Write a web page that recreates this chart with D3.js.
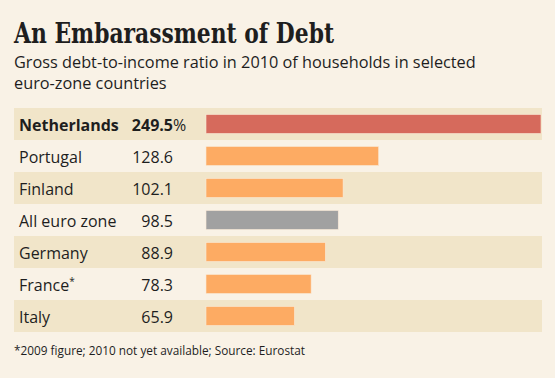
<!DOCTYPE html>
<html>
<head>
<meta charset="utf-8">
<script src="https://cdn.jsdelivr.net/npm/d3@7"></script>
<style>
  html, body { margin: 0; padding: 0; background: #f9f2e6; }
  svg { display: block; }
  text { fill: #1e1e1e; }
</style>
</head>
<body>
<script>
(function(d3) {
    'use strict';

    var countries = ['Netherlands', 'Portugal', 'Finland', 'All euro zone', 'Germany', 'France', 'Italy'];
    var values = [249.5, 128.6, 102.1, 98.5, 88.9, 78.3, 65.9];
    var valueLabels = ['249.5', '128.6', '102.1', '98.5', '88.9', '78.3', '65.9'];
    var barColors = ['#d66a5c', '#fdab63', '#fdab63', '#a1a1a1', '#fdab63', '#fdab63', '#fdab63'];
    var footnoted = ['France'];

    var settings = {
        width: 555,
        height: 378,
        left: 14,
        right: 542,
        top: 108,
        rowHeight: 32,
        barHeight: 19,
        barStart: 206,
        barEnd: 541,
        labelX: 19,
        valueX: 173,
        band: '#f1e5c9',
        sans: '"Open Sans", "Noto Sans", sans-serif'
    };

    var svg = d3.select('body')
        .append('svg')
        .attr('width', settings.width)
        .attr('height', settings.height);

    svg.append('rect')
        .attr('width', settings.width)
        .attr('height', settings.height)
        .attr('fill', '#f9f2e6');

    svg.append('text')
        .attr('x', 14)
        .attr('y', 42.5)
        .style('font-family', '"DejaVu Serif", serif')
        .style('font-weight', 'bold')
        .style('font-size', '28px')
        .attr('textLength', 320)
        .attr('lengthAdjust', 'spacingAndGlyphs')
        .text('An Embarassment of Debt');

    var sub = svg.append('text')
        .style('font-family', settings.sans)
        .style('font-weight', 500)
        .style('font-size', '16.3px');
    sub.append('tspan').attr('x', 14).attr('y', 68)
        .text('Gross debt-to-income ratio in 2010 of households in selected');
    sub.append('tspan').attr('x', 14).attr('y', 89)
        .text('euro-zone countries');

    var y = d3.scaleBand()
        .domain(countries)
        .range([settings.top, settings.top + settings.rowHeight * countries.length])
        .padding(0);

    var x = d3.scaleLinear()
        .domain([0, d3.max(values)])
        .range([settings.barStart, settings.barEnd]);

    var row = svg.selectAll('g.row')
        .data(countries)
        .enter()
        .append('g')
        .attr('class', 'row')
        .attr('transform', function(d) { return 'translate(0,' + y(d) + ')'; });

    row.append('rect')
        .attr('x', settings.left)
        .attr('width', settings.right - settings.left)
        .attr('height', y.bandwidth())
        .attr('fill', function(d, i) { return i % 2 === 0 ? settings.band : 'none'; });

    row.append('rect')
        .attr('x', x(0))
        .attr('y', (y.bandwidth() - settings.barHeight) / 2)
        .attr('width', function(d, i) { return x(values[i]) - x(0); })
        .attr('height', settings.barHeight)
        .attr('fill', function(d, i) { return barColors[i]; })
        .attr('stroke', '#fbe9d8')
        .attr('stroke-width', 0.6);

    var label = row.append('text')
        .attr('x', settings.labelX)
        .attr('y', 23)
        .style('font-family', settings.sans)
        .style('font-size', '16px')
        .style('font-weight', function(d, i) { return i === 0 ? 'bold' : 'normal'; })
        .text(function(d) { return d; });

    label.filter(function(d) { return footnoted.indexOf(d) >= 0; })
        .append('tspan')
        .attr('dy', -6)
        .style('font-size', '10px')
        .text('*');

    row.append('text')
        .attr('x', settings.valueX)
        .attr('y', 23)
        .attr('text-anchor', 'end')
        .style('font-family', settings.sans)
        .style('font-size', '16px')
        .style('font-weight', function(d, i) { return i === 0 ? 'bold' : 'normal'; })
        .text(function(d, i) { return valueLabels[i]; });

    row.filter(function(d, i) { return i === 0; })
        .append('text')
        .attr('x', settings.valueX)
        .attr('y', 23)
        .style('font-family', settings.sans)
        .style('font-size', '16px')
        .text('%');

    svg.append('text')
        .attr('x', 14)
        .attr('y', 355)
        .style('font-family', settings.sans)
        .style('font-size', '11.8px')
        .text('*2009 figure; 2010 not yet available; Source: Eurostat');

})(window.d3);
</script>
</body>
</html>
